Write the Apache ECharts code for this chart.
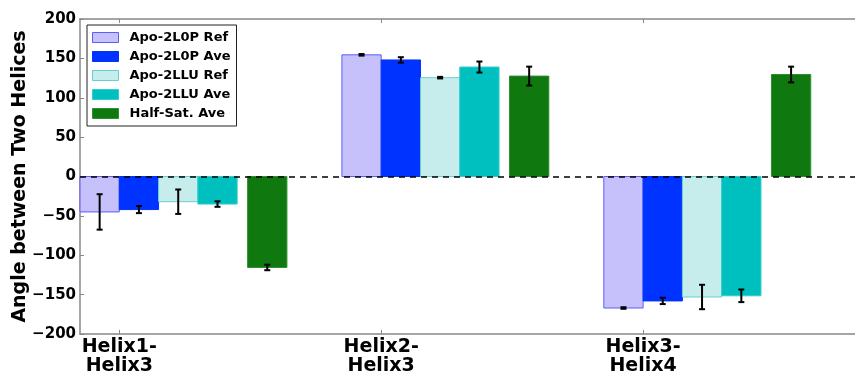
<!DOCTYPE html>
<html>
<head>
<meta charset="utf-8">
<script src="https://cdn.jsdelivr.net/npm/echarts@6/dist/echarts.min.js"></script>
<style>html,body{margin:0;padding:0;background:#fff;}#c{width:855px;height:375px;}</style>
</head>
<body>
<div id="c"></div>
<script>
// ---- data ----
const categories = ['Helix1-\nHelix3', 'Helix2-\nHelix3', 'Helix3-\nHelix4'];
const seriesNames = ['Apo-2L0P Ref', 'Apo-2L0P Ave', 'Apo-2LLU Ref', 'Apo-2LLU Ave', 'Half-Sat. Ave'];
const ref2L0P = [-45, 154.5, -167];
const ref2L0PErr = [22.5, 1, 1];
const ave2L0P = [-42, 148, -158];
const ave2L0PErr = [4.5, 3.5, 4];
const ref2LLU = [-32, 125.5, -153];
const ref2LLUErr = [15.5, 1, 15.5];
const ave2LLU = [-35, 139, -151.5];
const ave2LLUErr = [3.5, 7, 8];
const halfSat = [-115.5, 127.5, 129.5];
const halfSatErr = [3.5, 12, 10];
const yTicks = [-200, -150, -100, -50, 0, 50, 100, 150, 200];

// ---- styling ----
const FONT = 'DejaVu Sans';
const BAR_W = 0.15;
const styles = [
  {offset: -0.15, fill: '#c6c1fa', stroke: '#5c5cff', lw: 1},
  {offset: 0.0,   fill: '#0033ff', stroke: '#0033ff', lw: 1},
  {offset: 0.15,  fill: '#c6ecec', stroke: '#66d0d0', lw: 1},
  {offset: 0.30,  fill: '#00bfbf', stroke: '#33cccc', lw: 1},
  {offset: 0.49,  fill: '#0f780f', stroke: '#2e8f2e', lw: 1}
];
const values = [ref2L0P, ave2L0P, ref2LLU, ave2LLU, halfSat];
const errs = [ref2L0PErr, ave2L0PErr, ref2LLUErr, ave2LLUErr, halfSatErr];

const X_MIN = -0.15, X_MAX = 2.809;

function makeRender(st) {
  return function (params, api) {
    const ci = api.value(0), v = api.value(1), e = api.value(2);
    const x0 = ci + st.offset;
    const pA = api.coord([x0, 0]);
    const pB = api.coord([x0 + BAR_W, v]);
    const xc = api.coord([x0 + BAR_W / 2, v + e]);
    const xb = api.coord([x0 + BAR_W / 2, v - e]);
    const cap = 3;
    const rx = Math.min(pA[0], pB[0]), ry = Math.min(pA[1], pB[1]);
    return {
      type: 'group',
      children: [
        {type: 'rect', shape: {x: rx, y: ry, width: Math.abs(pB[0] - pA[0]), height: Math.abs(pB[1] - pA[1])},
         style: {fill: st.fill, stroke: st.stroke, lineWidth: st.lw}},
        {type: 'line', shape: {x1: xc[0], y1: xc[1], x2: xb[0], y2: xb[1]}, style: {stroke: '#000', lineWidth: 2}, z2: 10},
        {type: 'line', shape: {x1: xc[0] - cap, y1: xc[1], x2: xc[0] + cap, y2: xc[1]}, style: {stroke: '#000', lineWidth: 2}, z2: 10},
        {type: 'line', shape: {x1: xb[0] - cap, y1: xb[1], x2: xb[0] + cap, y2: xb[1]}, style: {stroke: '#000', lineWidth: 2}, z2: 10}
      ]
    };
  };
}

const series = seriesNames.map((name, s) => {
  const o = {
    name: name,
    type: 'custom',
    xAxisIndex: 0,
    yAxisIndex: 0,
    renderItem: makeRender(styles[s]),
    itemStyle: {color: styles[s].fill, borderColor: styles[s].stroke, borderWidth: 1},
    encode: {x: 0, y: 1},
    data: categories.map((c, i) => [i, values[s][i], errs[s][i]]),
    z: 2
  };
  if (s === 0) {
    o.markLine = {
      silent: true, symbol: ['none', 'none'], label: {show: false},
      lineStyle: {type: [6, 5], color: '#000', width: 1.5},
      data: [{yAxis: 0}], z: 5
    };
  }
  return o;
});

const chart = echarts.init(document.getElementById('c'));
chart.setOption({
  animation: false,
  backgroundColor: '#fff',
  grid: {left: 80, right: 0, top: 19, bottom: 41, containLabel: false, outerBoundsMode: 'none'},
  legend: {
    orient: 'vertical', left: 87, top: 25,
    padding: [6, 6, 6, 5],
    borderColor: '#222', borderWidth: 1, backgroundColor: '#fff',
    itemWidth: 26, itemHeight: 10, itemGap: 6,
    icon: 'rect',
    textStyle: {fontFamily: FONT, fontWeight: 'bold', fontSize: 13, color: '#000', padding: [0, 0, 0, 6]},
    data: seriesNames.map((n, s) => ({name: n, itemStyle: {color: styles[s].fill, borderColor: styles[s].stroke, borderWidth: 1}}))
  },
  xAxis: [
    {
      type: 'value', min: X_MIN, max: X_MAX, position: 'bottom',
      axisLine: {show: true, onZero: false, lineStyle: {color: '#888', width: 1.5}},
      axisTick: {show: true, inside: true, length: 4, customValues: [0, 1, 2], lineStyle: {color: '#888'}},
      axisLabel: {
        customValues: [0, 1, 2], margin: 4,
        formatter: v => categories[Math.round(v)],
        fontFamily: FONT, fontWeight: 'bold', fontSize: 19, lineHeight: 19, color: '#000'
      },
      splitLine: {show: false}
    },
    {
      type: 'value', min: X_MIN, max: X_MAX, position: 'top',
      axisLine: {show: true, onZero: false, lineStyle: {color: '#888', width: 1.5}},
      axisTick: {show: true, inside: true, length: 4, customValues: [0, 1, 2], lineStyle: {color: '#888'}},
      axisLabel: {show: false},
      splitLine: {show: false}
    }
  ],
  yAxis: {
    type: 'value', min: yTicks[0], max: yTicks[yTicks.length - 1], interval: 50,
    name: 'Angle between Two Helices', nameLocation: 'middle', nameGap: 50, nameMoveOverlap: false,
    nameTextStyle: {fontFamily: FONT, fontWeight: 'bold', fontSize: 19, color: '#000'},
    axisLine: {show: true, onZero: false, lineStyle: {color: '#888', width: 1.5}},
    axisTick: {show: true, inside: true, length: 4, lineStyle: {color: '#888'}},
    axisLabel: {
      margin: 4, fontFamily: FONT, fontWeight: 'bold', fontSize: 15, color: '#000',
      formatter: v => String(v).replace('-', '\u2212')
    },
    splitLine: {show: false}
  },
  series: series
});
</script>
</body>
</html>
